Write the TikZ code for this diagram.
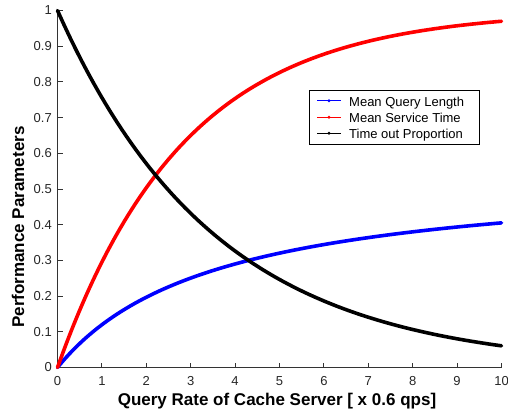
\documentclass[tikz,border=0pt]{standalone}
\usepackage{fontspec}
\setmainfont{Liberation Sans}
\usetikzlibrary{calc}
\begin{document}
\begin{tikzpicture}[x=1pt,y=1pt,
  curve/.style={line width=3.6pt, line join=round, line cap=round},
  axisline/.style={line width=0.9pt, black!80},
  ticklab/.style={font=\fontsize{13}{13}\selectfont, inner sep=0pt, text=black!85},
  axlab/.style={font=\fontsize{17}{17}\selectfont\bfseries, inner sep=0pt},
  legtext/.style={font=\fontsize{13}{13}\selectfont, inner sep=0pt, anchor=base west},
  legline/.style={line width=0.9pt},
  legbox/.style={draw=black, line width=0.9pt, fill=white}]
\useasboundingbox (0,0) rectangle (508,416);
\begin{scope}[shift={(57.5,48.5)}, x=44.4pt, y=357pt]
  % axes
  \draw[axisline] (0,1) -- (0,0) -- (10,0);
  \foreach \i in {0,...,10} {
    \draw[axisline] (\i,0) -- ++(0,5pt);
    \node[ticklab, anchor=base] (xt\i) at ([yshift=-17.5pt]\i,0) {\i};
  }
  \foreach \v/\n in {0/0,0.1/1,0.2/2,0.3/3,0.4/4,0.5/5,0.6/6,0.7/7,0.8/8,0.9/9,1/10} {
    \draw[axisline] (0,\v) -- ++(5pt,0);
    \node[ticklab, anchor=east] (yt\n) at ([xshift=-5.5pt]0,\v) {\v};
  }
  % curves
  \draw[curve, blue] plot[domain=0:10, samples=200, smooth] (\x, {0.551*\x/(\x+3.6)});
  \draw[curve, red] plot[domain=0:10, samples=200, smooth] (\x, {1-exp(-0.35*\x)});
  \draw[curve, black] plot[domain=0:10, samples=200, smooth] (\x, {exp(-0.28*\x)});
\end{scope}
% axis labels
\node[axlab, anchor=base] (xlab) at (277,11) {Query Rate of Cache Server [ x 0.6 qps]};
\node[axlab, rotate=90, anchor=base] (ylab) at (24,189) {Performance Parameters};
% legend
\node[legbox, minimum width=170pt, minimum height=54pt, inner sep=0pt] (leg) at (394,299) {};
\foreach \c/\t/\y [count=\k] in {blue/Mean Query Length/315.3, red/Mean Service Time/298.7, black/Time out Proportion/282.7} {
  \coordinate (la\k) at (317,\y);
  \coordinate (lb\k) at (341,\y);
  \draw[legline, \c] (la\k) -- (lb\k);
  \fill[\c] ($(la\k)!0.5!(lb\k)$) circle (1.6pt);
  \node[legtext] (lt\k) at (349,\y-5.3) {\t};
}
\end{tikzpicture}
\end{document}
